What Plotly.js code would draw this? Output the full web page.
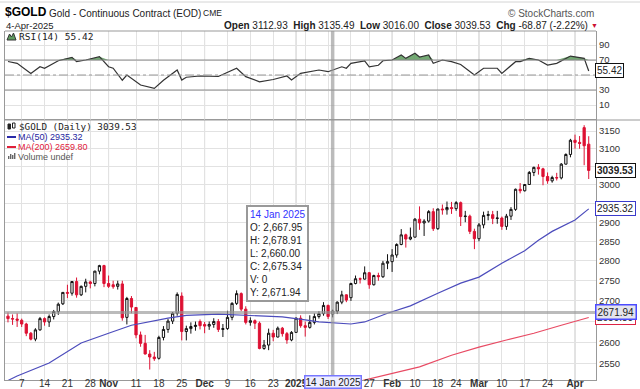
<!DOCTYPE html>
<html><head><meta charset="utf-8">
<script src="https://cdn.plot.ly/plotly-3.0.1.min.js"></script>
<style>html,body{margin:0;padding:0;background:#fff}#chart{width:640px;height:389px}</style>
</head><body><div id="chart"></div>
<script>
// ---------------- DATA ----------------
const dates = [
"2024-10-02","2024-10-03","2024-10-04","2024-10-07","2024-10-08","2024-10-09","2024-10-10","2024-10-11",
"2024-10-14","2024-10-15","2024-10-16","2024-10-17","2024-10-18","2024-10-21","2024-10-22","2024-10-23",
"2024-10-24","2024-10-25","2024-10-28","2024-10-29","2024-10-30","2024-10-31","2024-11-01","2024-11-04",
"2024-11-05","2024-11-06","2024-11-07","2024-11-08","2024-11-11","2024-11-12","2024-11-13","2024-11-14",
"2024-11-15","2024-11-18","2024-11-19","2024-11-20","2024-11-21","2024-11-22","2024-11-25","2024-11-26",
"2024-11-27","2024-11-28","2024-11-29","2024-12-02","2024-12-03","2024-12-04","2024-12-05","2024-12-06",
"2024-12-09","2024-12-10","2024-12-11","2024-12-12","2024-12-13","2024-12-16","2024-12-17","2024-12-18",
"2024-12-19","2024-12-20","2024-12-23","2024-12-26","2024-12-27","2024-12-30","2024-12-31","2025-01-02",
"2025-01-03","2025-01-06","2025-01-07","2025-01-08","2025-01-09","2025-01-10","2025-01-13","2025-01-14",
"2025-01-15","2025-01-16","2025-01-17","2025-01-21","2025-01-22","2025-01-23","2025-01-24","2025-01-27",
"2025-01-28","2025-01-29","2025-01-30","2025-01-31","2025-02-03","2025-02-04","2025-02-05","2025-02-06",
"2025-02-07","2025-02-10","2025-02-11","2025-02-12","2025-02-13","2025-02-14","2025-02-18","2025-02-19",
"2025-02-20","2025-02-21","2025-02-24","2025-02-25","2025-02-26","2025-02-27","2025-02-28","2025-03-03",
"2025-03-04","2025-03-05","2025-03-06","2025-03-07","2025-03-10","2025-03-11","2025-03-12","2025-03-13",
"2025-03-14","2025-03-17","2025-03-18","2025-03-19","2025-03-20","2025-03-21","2025-03-24","2025-03-25",
"2025-03-26","2025-03-27","2025-03-28","2025-03-31","2025-04-01","2025-04-02","2025-04-03","2025-04-04"];

const open = [
2663,2657,2656,2653,2644,2622,2608,2630,2657,2649,2662,2674,2693,2721,2719,2748,
2715,2736,2747,2743,2774,2788,2743,2740,2736,2742,2660,2706,2684,2618,2598,2573,
2566,2563,2612,2631,2651,2670,2712,2626,2633,2638,2650,2643,2639,2643,2650,2631,
2633,2660,2694,2718,2680,2648,2652,2646,2586,2594,2622,2613,2634,2621,2606,2624,
2658,2640,2636,2648,2662,2669,2689,2667.95,2675,2697,2715,2708,2743,2755,2754,2770,
2740,2763,2760,2794,2798,2815,2842,2867,2856,2861,2908,2898,2903,2928,2883,2935,
2933,2939,2936,2952,2915,2916,2876,2857,2893,2918,2920,2910,2911,2889,2916,2934,
2988,2984,3001,3034,3048,3044,3023,3011,3020,3019,3057,3084,3124,3118,3160,3112.93];
const high = [
2672,2667,2670,2657,2647,2625,2634,2661,2660,2667,2678,2696,2722,2740,2749,2758,
2738,2755,2750,2775,2790,2790,2763,2750,2750,2750,2710,2712,2685,2626,2618,2582,
2578,2616,2639,2656,2673,2721,2721,2640,2648,2650,2655,2649,2650,2658,2656,2644,
2676,2697,2726,2721,2687,2660,2655,2650,2606,2633,2630,2638,2637,2625,2627,2660,
2665,2650,2665,2670,2675,2697,2691,2678.91,2699,2725,2716,2745,2763,2758,2786,2772,
2765,2770,2800,2817,2830,2845,2882,2870,2886,2911,2942,2908,2932,2937,2936,2947,
2955,2954,2956,2955,2930,2920,2883,2898,2928,2930,2930,2930,2915,2922,2940,2990,
3005,3002,3038,3050,3057,3047,3034,3025,3033,3060,3087,3128,3140,3136,3167,3135.49];
const low = [
2648,2642,2637,2637,2615,2605,2603,2628,2640,2637,2655,2666,2690,2707,2713,2708,
2712,2721,2731,2736,2766,2734,2732,2730,2728,2652,2643,2670,2610,2590,2572,2537,
2557,2560,2605,2623,2644,2664,2605,2605,2621,2628,2631,2622,2630,2635,2625,2613,
2630,2653,2690,2675,2643,2640,2632,2584,2583,2582,2603,2612,2614,2597,2603,2624,
2635,2614,2633,2643,2657,2664,2656,2660.00,2668,2692,2697,2700,2741,2743,2753,2730,
2738,2750,2757,2779,2772,2808,2840,2834,2853,2860,2880,2864,2899,2877,2880,2920,
2920,2922,2930,2890,2900,2869,2830,2850,2884,2905,2895,2896,2880,2880,2906,2930,
2977,2982,3000,3024,3028,2999,3003,3006,3012,3015,3056,3076,3100,3100,3054,3016.00];
const close = [
2657,2656,2653,2644,2622,2608,2630,2657,2649,2662,2674,2692,2721,2719,2748,2715,
2736,2747,2743,2774,2788,2743,2736,2735,2742,2659,2706,2685,2618,2598,2573,2566,
2562,2612,2631,2651,2670,2716,2626,2633,2638,2641,2640,2639,2643,2650,2631,2633,
2660,2694,2718,2680,2648,2652,2646,2586,2594,2622,2613,2634,2621,2606,2624,2658,
2640,2636,2648,2662,2669,2689,2662,2675.34,2697,2715,2702,2743,2755,2754,2770,2740,
2763,2760,2794,2798,2815,2842,2867,2856,2861,2908,2898,2903,2928,2883,2935,2933,
2939,2936,2952,2915,2916,2876,2857,2893,2918,2920,2910,2911,2889,2916,2934,2988,
2984,3001,3034,3048,3044,3023,3011,3020,3019,3057,3084,3124,3118,3115,3108.40,3039.53];

const ma50Dates = ["2024-10-02","2024-10-04","2024-10-15","2024-10-24","2024-11-01","2024-11-08","2024-11-20",
"2024-11-26","2024-12-05","2024-12-16","2024-12-27","2025-01-06","2025-01-09","2025-01-21","2025-01-24",
"2025-01-31","2025-02-07","2025-02-18","2025-02-25","2025-03-03","2025-03-10","2025-03-17","2025-03-20",
"2025-03-25","2025-04-01","2025-04-04"];
const ma50 = [2512,2522,2552,2599,2622,2641,2658,2665,2668,2665,2661,2654,2649,2644,2649,
2670,2688,2719,2744,2759,2794,2826,2853,2876,2906,2935.32];

const ma200Dates = ["2025-01-22","2025-01-29","2025-02-11","2025-02-21","2025-03-03","2025-03-11",
"2025-03-19","2025-03-27","2025-04-04"];
const ma200 = [2508,2520,2543,2570,2589,2606,2622,2641,2659.80];

const rsiDates = ["2024-10-02","2024-10-04","2024-10-09","2024-10-11","2024-10-14","2024-10-17","2024-10-22",
"2024-10-23","2024-10-25","2024-10-30","2024-11-01","2024-11-04","2024-11-06","2024-11-07","2024-11-12",
"2024-11-15","2024-11-19","2024-11-22","2024-11-25","2024-11-26","2024-11-29","2024-12-05","2024-12-11",
"2024-12-13","2024-12-18","2024-12-23","2024-12-30","2024-12-31","2025-01-03","2025-01-09","2025-01-13",
"2025-01-16","2025-01-17","2025-01-21","2025-01-24","2025-01-27","2025-01-29","2025-01-30","2025-02-03",
"2025-02-05","2025-02-06","2025-02-10","2025-02-11","2025-02-13","2025-02-14","2025-02-19","2025-02-21",
"2025-02-25","2025-02-28","2025-03-04","2025-03-07","2025-03-10","2025-03-13","2025-03-14","2025-03-18",
"2025-03-20","2025-03-24","2025-03-26","2025-03-31","2025-04-03","2025-04-04"];
const rsi = [68,65.6,52,61,59,69,73.6,67.8,70,74.4,61,59,43,50,36.7,32.2,43,56.7,43.3,47,48.7,48,59,
47.8,41,44,48.7,43.3,52.2,56.7,54.4,61,59,65.6,68.7,61,63,69,70,76.7,72.2,78.9,74,76.7,65.6,70,67.8,
64,50,59,59,52.2,67.8,67.8,72.2,70,63.3,65.6,75.3,72.2,55.42];

const tickDates = ["2024-10-07","2024-10-14","2024-10-21","2024-10-28","2024-11-01","2024-11-11","2024-11-18",
"2024-11-25","2024-12-02","2024-12-09","2024-12-16","2024-12-23","2025-01-02","2025-01-06","2025-01-13",
"2025-01-21","2025-01-27","2025-02-03","2025-02-10","2025-02-18","2025-02-24","2025-03-03","2025-03-10",
"2025-03-17","2025-03-24","2025-04-01"];
const tickLabels = ["7","14","21","28","Nov","11","18","25","Dec","9","16","23","2025","","","","27","Feb",
"10","18","24","Mar","10","17","24","Apr"];
const monthTicks = ["Nov","Dec","2025","Feb","Mar","Apr"];
const priceTicks = [2550,2600,2650,2700,2750,2800,2850,2900,2950,3000,3050,3100,3150];
const rsiTicks = [10,30,50,70,90];
const tipDate = "2025-01-14";
const crossPrice = 2671.94;

// ---------------- HELPERS ----------------
const L = 5, R = 596, T = 31, B = 380;
const px = p => (p - L) / (R - L);
const py = p => 1 - (p - T) / (B - T);
const SANS = "Liberation Sans, Arial, sans-serif";
const MONO = "DejaVu Sans Mono, monospace";
const fmt = v => v.toLocaleString('en-US', {minimumFractionDigits: 2, maximumFractionDigits: 2});
const n = dates.length;
const prevClose = close.map((c, i) => i > 0 ? close[i - 1] : open[0]);
const upDay = close.map((c, i) => c >= prevClose[i]);
const pick = (arr, f) => arr.filter((_, i) => upDay[i] === f);

function candles(flag, col) {
  return {
    type: 'candlestick', xaxis: 'x', yaxis: 'y', hoverinfo: 'skip',
    x: pick(dates, flag), open: pick(open, flag), high: pick(high, flag),
    low: pick(low, flag), close: pick(close, flag), whiskerwidth: 0,
    increasing: {line: {color: col, width: 1}, fillcolor: '#ffffff'},
    decreasing: {line: {color: col, width: 1}, fillcolor: col}
  };
}

const traces = [
  {x: rsiDates, y: rsi.map(() => 70), yaxis: 'y2', mode: 'lines', line: {width: 0}, hoverinfo: 'skip'},
  {x: rsiDates, y: rsi.map(v => Math.max(v, 70)), yaxis: 'y2', mode: 'lines', line: {width: 0},
   fill: 'tonexty', fillcolor: 'rgba(100,160,100,0.9)', hoverinfo: 'skip'},
  {x: rsiDates, y: rsi, yaxis: 'y2', mode: 'lines', line: {color: '#333', width: 1.2}, hoverinfo: 'skip'},
  candles(true, '#111111'),
  candles(false, '#dd1133'),
  {x: ma200Dates, y: ma200, yaxis: 'y', mode: 'lines', line: {color: '#e84a63', width: 1.2}, hoverinfo: 'skip'},
  {x: ma50Dates, y: ma50, yaxis: 'y', mode: 'lines', line: {color: '#4c4cbc', width: 1.2}, hoverinfo: 'skip'}
];

const tipIdx = dates.indexOf(tipDate);
const last = n - 1;
const chg = close[last] - close[last - 1];
const pct = chg / close[last - 1] * 100;
const splitDom = py(120);

const shapes = [];
tickDates.forEach((d, i) => {
  if (monthTicks.includes(tickLabels[i])) {
    const k = dates.indexOf(d);
    shapes.push({type: 'line', xref: 'x', yref: 'paper', x0: k, x1: k, y0: 0, y1: 1, layer: 'below',
      line: {color: '#c6c6c6', width: 1}});
  }
});
shapes.push({type: 'line', xref: 'paper', yref: 'y2', x0: 0, x1: 1, y0: 70, y1: 70, line: {color: '#8a8a8a', width: 1}});
shapes.push({type: 'line', xref: 'paper', yref: 'y2', x0: 0, x1: 1, y0: 30, y1: 30, line: {color: '#8a8a8a', width: 1}});
shapes.push({type: 'line', xref: 'paper', yref: 'y2', x0: 0, x1: 1, y0: 50, y1: 50, line: {color: '#999', width: 1, dash: 'dashdot'}});
shapes.push({type: 'line', xref: 'paper', yref: 'paper', x0: 0, x1: 1, y0: 1, y1: 1, line: {color: '#999', width: 1}});
shapes.push({type: 'line', xref: 'paper', yref: 'paper', x0: 0, x1: px(640), y0: splitDom, y1: splitDom, line: {color: '#999', width: 1}});
shapes.push({type: 'line', xref: 'paper', yref: 'paper', x0: px(0), x1: px(640), y0: py(2), y1: py(2), line: {color: '#d4d4d4', width: 1}});
shapes.push({type: 'line', xref: 'x', yref: 'paper', x0: tipIdx, x1: tipIdx, y0: 0, y1: 1, layer: 'above',
  line: {color: 'rgba(150,150,150,0.65)', width: 3.5}});
shapes.push({type: 'line', xref: 'paper', yref: 'y', x0: 0, x1: 1, y0: crossPrice, y1: crossPrice, layer: 'above',
  line: {color: 'rgba(150,150,150,0.65)', width: 3}});
shapes.push({type: 'line', xref: 'paper', yref: 'paper', x0: px(7), x1: px(16), y0: py(137), y1: py(137), line: {color: '#2a2aa8', width: 2}});
shapes.push({type: 'line', xref: 'paper', yref: 'paper', x0: px(7), x1: px(16), y0: py(147), y1: py(147), line: {color: '#e0203a', width: 2}});
[[8, 3], [10, 5], [12, 4], [14, 6]].forEach(b => shapes.push({type: 'rect', xref: 'paper', yref: 'paper',
  x0: px(b[0]), x1: px(b[0] + 1.4), y0: py(159), y1: py(159 - b[1]), fillcolor: '#666', line: {width: 0}}));
shapes.push({type: 'rect', xref: 'paper', yref: 'paper', x0: px(8), x1: px(10.5), y0: py(129), y1: py(124), fillcolor: '#222', line: {color: '#222', width: 1}});
shapes.push({type: 'rect', xref: 'paper', yref: 'paper', x0: px(12.5), x1: px(15), y0: py(128), y1: py(123), fillcolor: '#fff', line: {color: '#222', width: 1}});
shapes.push({type: 'path', xref: 'paper', yref: 'paper',
  path: `M${px(7)},${py(40)} L${px(9.5)},${py(34)} L${px(11.5)},${py(37)} L${px(13.5)},${py(33)} L${px(16)},${py(40)} Z`,
  fillcolor: '#5f9a5f', line: {color: '#333', width: 1}});

function ann(x, y, text, o) {
  return Object.assign({xref: 'paper', yref: 'paper', x: px(x), y: py(y), text: text, showarrow: false,
    xanchor: 'left', yanchor: 'middle', font: {family: SANS, size: 10, color: '#222'}}, o || {});
}
function tag(val, yref, text, border, o) {
  return Object.assign({xref: 'paper', yref: yref, x: 1, xanchor: 'left', xshift: -1,
    y: yref === 'y' ? Math.log10(val) : val, yanchor: 'middle', text: text, showarrow: false,
    bgcolor: '#ffffff', bordercolor: border, borderwidth: 1, borderpad: 1,
    font: {family: SANS, size: 10, color: '#222'}}, o || {});
}

const tipText = `<span style="color:#3333ff">${new Date(tipDate + 'T00:00:00').getDate()} Jan 2025</span><br>` +
  `O: ${fmt(open[tipIdx])}<br>H: ${fmt(high[tipIdx])}<br>L: ${fmt(low[tipIdx])}<br>C: ${fmt(close[tipIdx])}<br>V: 0<br>Y: ${fmt(crossPrice)}`;

const annotations = [
  ann(3, 12, '<b>$GOLD</b>', {font: {family: SANS, size: 12, color: '#000'}}),
  ann(47, 13, 'Gold - Continuous Contract (EOD)', {font: {family: SANS, size: 10, color: '#222'}}),
  ann(201, 13.5, 'CME', {font: {family: SANS, size: 8.5, color: '#222'}}),
  ann(4, 25, '4-Apr-2025', {font: {family: SANS, size: 9.5, color: '#222'}}),
  ann(590, 25, `<b>Open</b> ${open[last].toFixed(2)}  <b>High</b> ${high[last].toFixed(2)}  <b>Low</b> ${low[last].toFixed(2)}  <b>Close</b> ${close[last].toFixed(2)}  <b>Chg</b> ${chg.toFixed(2)} (${pct.toFixed(2)}%)`,
    {xanchor: 'right', font: {family: SANS, size: 10, color: '#222'}}),
  ann(589, 25.5, '▼', {font: {family: SANS, size: 7, color: '#cc1133'}}),
  ann(596, 13, '© StockCharts.com', {xanchor: 'right', font: {family: SANS, size: 10, color: '#555'}}),
  ann(17, 36.5, `RSI(14) ${rsi[rsi.length - 1].toFixed(2)}`, {font: {family: MONO, size: 9.5, color: '#222'}}),
  ann(17, 126, `$GOLD (Daily) ${close[last].toFixed(2)}`, {font: {family: MONO, size: 9.3, color: '#222'}}),
  ann(16, 137, `MA(50) ${ma50[ma50.length - 1].toFixed(2)}`, {font: {family: SANS, size: 9, color: '#2525a0'}}),
  ann(16, 147, `MA(200) ${ma200[ma200.length - 1].toFixed(2)}`, {font: {family: SANS, size: 9, color: '#e0203a'}}),
  ann(16, 156.5, 'Volume undef', {font: {family: SANS, size: 9, color: '#555'}}),
  ann(246, 205, tipText, {yanchor: 'top', align: 'left', bgcolor: '#fff', bordercolor: '#999', borderwidth: 2, borderpad: 2,
    font: {family: SANS, size: 10, color: '#222'}}),
  {xref: 'x', yref: 'paper', x: tipIdx, y: py(382), text: '14 Jan 2025', showarrow: false, xanchor: 'center', yanchor: 'middle',
   bgcolor: '#eeeeff', bordercolor: '#7777ff', borderwidth: 1.5, borderpad: 0, font: {family: SANS, size: 10, color: '#222'}},
  tag(close[last], 'y', `<b>${close[last].toFixed(2)}</b>`, '#111'),
  tag(ma50[ma50.length - 1], 'y', ma50[ma50.length - 1].toFixed(2), '#3a3acc'),
  tag(ma200[ma200.length - 1], 'y', ma200[ma200.length - 1].toFixed(2), '#dd2244'),
  tag(crossPrice, 'y', crossPrice.toFixed(2), '#4b4bff', {bgcolor: '#e4e4ec', borderwidth: 1.5}),
  tag(rsi[rsi.length - 1], 'y2', rsi[rsi.length - 1].toFixed(2), '#111')
];

const layout = {
  width: 640, height: 389,
  margin: {l: L, r: 640 - R, t: T, b: 389 - B},
  paper_bgcolor: '#fff', plot_bgcolor: '#fff',
  showlegend: false, dragmode: false,
  xaxis: {type: 'category', categoryorder: 'array', categoryarray: dates, range: [-0.652, 128.59],
    tickmode: 'array', tickvals: tickDates,
    ticktext: tickLabels.map(t => monthTicks.includes(t) ? `<b>${t}</b>` : t),
    tickangle: 0, ticks: '', ticklabelstandoff: -6, showgrid: true, gridcolor: '#e2e2e2', gridwidth: 1,
    showline: true, linecolor: '#999', mirror: true, zeroline: false, anchor: 'y',
    tickfont: {family: SANS, size: 10, color: '#333'}, rangeslider: {visible: false}, fixedrange: true},
  yaxis: {type: 'log', domain: [0, splitDom], range: [Math.log10(2513), Math.log10(3182)], side: 'right',
    tickmode: 'array', tickvals: priceTicks, ticktext: priceTicks.map(String), ticks: '',
    showgrid: true, gridcolor: '#e2e2e2', showline: true, linecolor: '#999', mirror: true, zeroline: false,
    tickfont: {family: SANS, size: 9.5, color: '#333'}, fixedrange: true},
  yaxis2: {domain: [splitDom, 1], range: [-10, 108.7], side: 'right', anchor: 'x',
    tickmode: 'array', tickvals: rsiTicks, ticktext: rsiTicks.map(String), ticks: '',
    showgrid: true, gridcolor: '#e2e2e2', showline: true, linecolor: '#999', mirror: true, zeroline: false,
    tickfont: {family: SANS, size: 9.5, color: '#333'}, fixedrange: true},
  shapes: shapes,
  annotations: annotations
};

Plotly.newPlot('chart', traces, layout, {staticPlot: true, displayModeBar: false});
</script>
</body></html>
